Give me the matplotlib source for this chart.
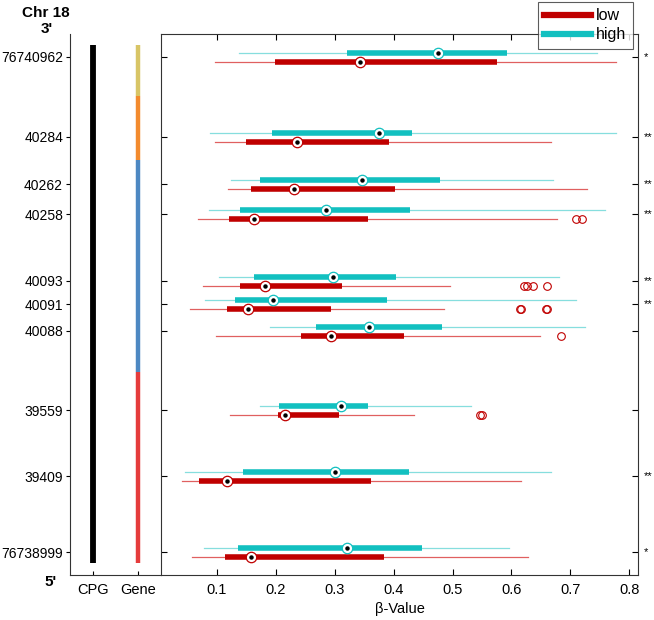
#methylation beta-values per CpG site, low vs high groups
import matplotlib.pyplot as plt
import numpy as np

plt.rcParams['font.family'] = ['Liberation Sans', 'DejaVu Sans']

#site labels and their vertical positions (top to bottom)
sites = ['76740962', '40284', '40262', '40258', '40093', '40091', '40088', '39559', '39409', '76738999']
ypos = [57, 137, 184, 214, 281, 304, 331, 410, 476, 552]
stars = ['*', '**', '**', '**', '**', '**', '', '', '**', '*']

#box stats: whisker low, q1, median, q3, whisker high
high_stats = [
    [0.137, 0.320, 0.475, 0.593, 0.746],
    [0.088, 0.194, 0.375, 0.432, 0.778],
    [0.124, 0.173, 0.346, 0.479, 0.671],
    [0.086, 0.139, 0.285, 0.427, 0.759],
    [0.103, 0.163, 0.297, 0.404, 0.680],
    [0.079, 0.131, 0.195, 0.389, 0.710],
    [0.190, 0.269, 0.358, 0.482, 0.725],
    [0.173, 0.205, 0.311, 0.357, 0.532],
    [0.045, 0.145, 0.301, 0.426, 0.668],
    [0.078, 0.136, 0.320, 0.448, 0.596],
]
low_stats = [
    [0.097, 0.199, 0.343, 0.575, 0.778],
    [0.097, 0.150, 0.236, 0.392, 0.668],
    [0.118, 0.158, 0.231, 0.402, 0.729],
    [0.068, 0.120, 0.163, 0.356, 0.677],
    [0.077, 0.139, 0.182, 0.312, 0.495],
    [0.054, 0.117, 0.152, 0.293, 0.485],
    [0.099, 0.242, 0.294, 0.418, 0.648],
    [0.123, 0.204, 0.216, 0.307, 0.435],
    [0.040, 0.070, 0.117, 0.361, 0.616],
    [0.057, 0.114, 0.157, 0.383, 0.629],
]
low_outliers = [
    [],
    [],
    [],
    [0.709, 0.720],
    [0.621, 0.626, 0.636, 0.660],
    [0.614, 0.616, 0.659, 0.661],
    [0.684],
    [0.547, 0.550],
    [],
    [],
]

#gene track segments (start, end, colour)
gene_start = [45, 96, 160, 372]
gene_end = [96, 160, 372, 563]
gene_cols = ['#d8c566', '#f38b2e', '#4d88c2', '#e53c3c']
cpg_span = [45, 563]

red = '#c00000'
red_light = '#e06060'
cyan = '#12c0c0'
cyan_light = '#86dede'

fig = plt.figure(figsize=(6.54, 6.20), dpi=100)
axL = fig.add_axes([70/654, 1-575/620, 91/654, 541/620])
ax = fig.add_axes([161/654, 1-575/620, 477/654, 541/620])

#left panel: cpg and gene tracks
axL.plot([0.25, 0.25], cpg_span, color='black', lw=4.2, solid_capstyle='butt')
for s, e, c in zip(gene_start, gene_end, gene_cols):
    axL.plot([0.75, 0.75], [s, e], color=c, lw=3.2, solid_capstyle='butt')
axL.set_xlim(0, 1)
axL.set_ylim(575, 34)
axL.set_yticks(ypos)
axL.set_yticklabels(sites, fontsize=10)
axL.set_xticks([0.25, 0.75])
axL.set_xticklabels(['CPG', 'Gene'], fontsize=10.5)
axL.tick_params(axis='y', direction='out', length=3, width=0.8, pad=2)
axL.tick_params(axis='x', direction='in', length=3, width=0.8, pad=6)
axL.spines['top'].set_visible(False)
axL.spines['right'].set_visible(False)
for sp in axL.spines.values():
    sp.set_linewidth(0.8)
    sp.set_color('#333333')

fig.text(70/654, 1-13/620, 'Chr 18', ha='right', va='center', fontsize=11, fontweight='bold')
fig.text(53/654, 1-29/620, "3'", ha='right', va='center', fontsize=11, fontweight='bold')
fig.text(57/654, 1-582/620, "5'", ha='right', va='center', fontsize=11, fontweight='bold')

#right panel: boxes
off = 4.5
for i, y in enumerate(ypos):
    for st, yy, c, cl in [(high_stats[i], y - off, cyan, cyan_light), (low_stats[i], y + off, red, red_light)]:
        ax.plot([st[0], st[4]], [yy, yy], color=cl, lw=0.9, zorder=2)
        ax.plot([st[1], st[3]], [yy, yy], color=c, lw=4.0, solid_capstyle='butt', zorder=3)
        ax.plot(st[2], yy, 'o', ms=7.5, mfc='white', mec=c, mew=0.9, zorder=4)
        ax.plot(st[2], yy, 'o', ms=2.2, color='black', zorder=5)
    if low_outliers[i]:
        ax.plot(low_outliers[i], [y + off] * len(low_outliers[i]), 'o', ms=5.5, mfc='none', mec=red, mew=0.8, zorder=3)
    if stars[i]:
        ax.text(1.013, y, stars[i], transform=ax.get_yaxis_transform(), ha='left', va='center', fontsize=8)

ax.set_xlim(0.005, 0.815)
ax.set_ylim(575, 34)
ax.set_yticks(ypos)
ax.set_yticklabels([])
ax.set_xticks(np.arange(0.1, 0.81, 0.1))
ax.set_xticklabels(['0.1', '0.2', '0.3', '0.4', '0.5', '0.6', '0.7', '0.8'], fontsize=10.5)
ax.tick_params(direction='in', length=4, width=0.8, top=True, right=True, pad=6)
for sp in ax.spines.values():
    sp.set_linewidth(0.8)
    sp.set_color('#333333')
ax.set_xlabel('β-Value', fontsize=10.5, labelpad=3)

#legend sits above the axes top edge, like the original
h1, = ax.plot([], [], color=red, lw=4.5)
h2, = ax.plot([], [], color=cyan, lw=4.5)
leg = fig.legend([h1, h2], ['low', 'high'], loc='upper right', bbox_to_anchor=(633/654, 1-2/620),
                 borderaxespad=0, fontsize=11.5, frameon=True, fancybox=False, edgecolor='#333333',
                 handlelength=2.9, borderpad=0.4, labelspacing=0.25, handletextpad=0.35)
leg.get_frame().set_linewidth(0.8)

plt.savefig('out.png', dpi=100)
